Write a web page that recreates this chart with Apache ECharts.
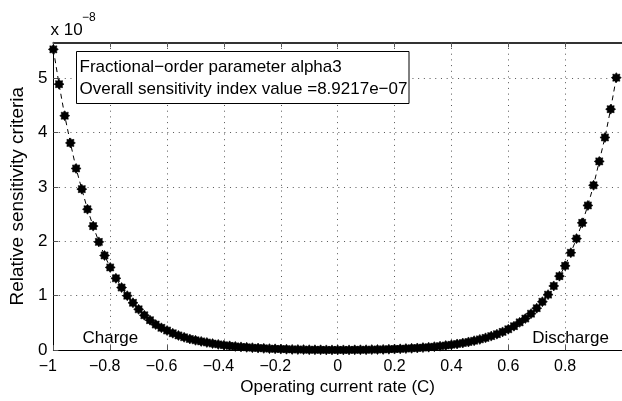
<!DOCTYPE html>
<html>
<head>
<meta charset="utf-8">
<script src="https://cdn.jsdelivr.net/npm/echarts@6/dist/echarts.min.js"></script>
<style>
  html, body { margin: 0; padding: 0; background: #fff; }
  #chart { width: 622px; height: 401px; }
</style>
</head>
<body>
<div id="chart"></div>
<script>
// Operating current rate (C), one sample every 0.02 C
const currentRate = [
  -1.00, -0.98, -0.96, -0.94, -0.92, -0.90, -0.88, -0.86, -0.84, -0.82,
  -0.80, -0.78, -0.76, -0.74, -0.72, -0.70, -0.68, -0.66, -0.64, -0.62,
  -0.60, -0.58, -0.56, -0.54, -0.52, -0.50, -0.48, -0.46, -0.44, -0.42,
  -0.40, -0.38, -0.36, -0.34, -0.32, -0.30, -0.28, -0.26, -0.24, -0.22,
  -0.20, -0.18, -0.16, -0.14, -0.12, -0.10, -0.08, -0.06, -0.04, -0.02,
   0.00,  0.02,  0.04,  0.06,  0.08,  0.10,  0.12,  0.14,  0.16,  0.18,
   0.20,  0.22,  0.24,  0.26,  0.28,  0.30,  0.32,  0.34,  0.36,  0.38,
   0.40,  0.42,  0.44,  0.46,  0.48,  0.50,  0.52,  0.54,  0.56,  0.58,
   0.60,  0.62,  0.64,  0.66,  0.68,  0.70,  0.72,  0.74,  0.76,  0.78,
   0.80,  0.82,  0.84,  0.86,  0.88,  0.90,  0.92,  0.94,  0.96,  0.98
];

// Relative sensitivity criteria, in units of 1e-8
const sensitivity = [
  5.53, 4.89, 4.31, 3.81, 3.34, 2.96, 2.59, 2.28, 1.99, 1.74,
  1.52, 1.32, 1.15, 1.00, 0.87, 0.75, 0.64, 0.55, 0.47, 0.41,
  0.36, 0.31, 0.27, 0.235, 0.205, 0.18, 0.16, 0.14, 0.12, 0.105,
  0.09, 0.078, 0.068, 0.059, 0.051, 0.044, 0.038, 0.032, 0.027, 0.023,
  0.019, 0.016, 0.013, 0.011, 0.009, 0.007, 0.006, 0.005, 0.004, 0.004,
  0.004, 0.004, 0.004, 0.005, 0.006, 0.007, 0.009, 0.011, 0.013, 0.016,
  0.019, 0.023, 0.028, 0.033, 0.039, 0.046, 0.054, 0.063, 0.073, 0.085,
  0.098, 0.113, 0.13, 0.15, 0.172, 0.197, 0.225, 0.257, 0.293, 0.335,
  0.383, 0.44, 0.51, 0.58, 0.67, 0.77, 0.89, 1.02, 1.18, 1.36,
  1.55, 1.79, 2.05, 2.34, 2.66, 3.03, 3.47, 3.91, 4.43, 5.01
];

const boxLines = [
  'Fractional\u2212order parameter alpha3',
  'Overall sensitivity index value =8.9217e\u221207'
];
const sideLabels = ['Charge', 'Discharge'];
const xName = 'Operating current rate (C)';
const yName = 'Relative sensitivity criteria';
const yExponent = '\u22128';

const FONT = '"Liberation Sans", Arial, Helvetica, sans-serif';

// eight-spoke asterisk marker
function asteriskPath() {
  const pts = [];
  for (let k = 0; k < 16; k++) {
    const a = k * Math.PI / 8;
    const r = k % 2 === 0 ? 10 : 7;
    pts.push((10 + r * Math.cos(a)).toFixed(2) + ' ' + (10 + r * Math.sin(a)).toFixed(2));
  }
  return 'path://M' + pts.join(' L') + ' Z';
}

function fmtTick(v) {
  const r = Math.round(v * 10) / 10;
  const s = String(Math.abs(r));
  return r < 0 ? '{neg|\u2212' + s + '}' : s;
}

const gridLine = { show: true, lineStyle: { color: '#555', width: 1, type: [1, 4.7] } };

const chart = echarts.init(document.getElementById('chart'), null, { renderer: 'canvas' });

chart.setOption({
  animation: false,
  backgroundColor: '#fff',
  textStyle: { fontFamily: FONT },
  grid: { left: 50.6, top: 42.3, width: 576.8, height: 309.4, containLabel: false },
  xAxis: [
    {
      type: 'value', min: -1, max: 1, interval: 0.2, position: 'bottom',
      name: xName, nameLocation: 'middle', nameGap: 28,
      nameTextStyle: { fontSize: 17, color: '#000', fontFamily: FONT },
      axisLine: { show: true, onZero: false, lineStyle: { color: '#000', width: 1 } },
      axisTick: { show: true, inside: true, length: 5, lineStyle: { color: '#555' } },
      axisLabel: {
        fontSize: 16, color: '#000', margin: 8, fontFamily: FONT,
        formatter: fmtTick, showMaxLabel: false,
        rich: { neg: { fontSize: 16, color: '#000', fontFamily: FONT, padding: [0, 11, 0, 0] } }
      },
      splitLine: gridLine
    },
    {
      type: 'value', min: -1, max: 1, interval: 0.2, position: 'top',
      axisLine: { show: true, onZero: false, lineStyle: { color: '#333', width: 2 } },
      axisTick: { show: true, inside: true, length: 5, lineStyle: { color: '#555' } },
      axisLabel: { show: false },
      splitLine: { show: false }
    }
  ],
  yAxis: {
    type: 'value', min: 0, max: 5.66, interval: 1, position: 'left',
    name: yName, nameLocation: 'middle', nameGap: 23, nameRotate: 90,
    nameTextStyle: { fontSize: 19, color: '#000', fontFamily: FONT },
    axisLine: { show: true, onZero: false, lineStyle: { color: '#000', width: 1 } },
    axisTick: { show: true, inside: true, length: 5, lineStyle: { color: '#555' } },
    axisLabel: { fontSize: 17, color: '#000', margin: 6, fontFamily: FONT, showMaxLabel: false,
      formatter: v => String(Math.round(v)) },
    splitLine: gridLine
  },
  series: [{
    type: 'line',
    data: currentRate.map((x, i) => [x, sensitivity[i]]),
    symbol: asteriskPath(),
    symbolSize: 10,
    itemStyle: { color: '#000', borderColor: '#000', borderWidth: 0.6 },
    lineStyle: { color: '#000', width: 1, type: [5, 4] },
    clip: false,
    z: 5
  }],
  graphic: [
    { type: 'rect', z: 10, shape: { x: 76.5, y: 51.5, width: 332.5, height: 52 },
      style: { fill: '#fff', stroke: '#000', lineWidth: 1 } },
    { type: 'text', z: 11, x: 79.5, y: 67, style: { text: boxLines[0], font: '17px ' + FONT, fill: '#000', verticalAlign: 'middle' } },
    { type: 'text', z: 11, x: 79.5, y: 89.5, style: { text: boxLines[1], font: '17px ' + FONT, fill: '#000', verticalAlign: 'middle' } },
    { type: 'text', z: 11, x: 50.5, y: 30, style: { text: 'x 10', font: '17px ' + FONT, fill: '#000', verticalAlign: 'middle' } },
    { type: 'text', z: 11, x: 82, y: 17.5, style: { text: yExponent, font: '12px ' + FONT, fill: '#000', verticalAlign: 'middle' } },
    { type: 'text', z: 11, x: 82.5, y: 338.5, style: { text: sideLabels[0], font: '17px ' + FONT, fill: '#000', verticalAlign: 'middle' } },
    { type: 'text', z: 11, x: 532.3, y: 338.5, style: { text: sideLabels[1], font: '17px ' + FONT, fill: '#000', verticalAlign: 'middle' } }
  ]
});
</script>
</body>
</html>
